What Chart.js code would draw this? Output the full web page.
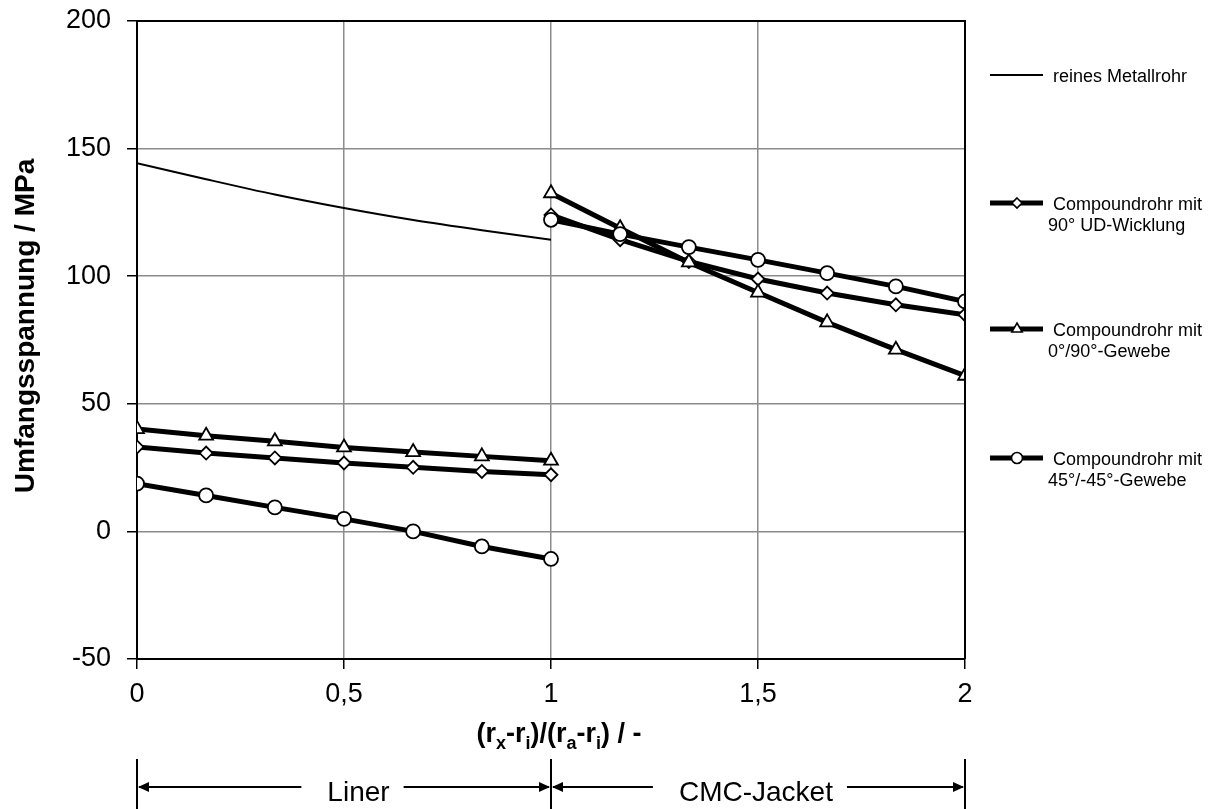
<!DOCTYPE html>
<html>
<head>
<meta charset="utf-8">
<script src="https://cdn.jsdelivr.net/npm/chart.js@4.4.1/dist/chart.umd.min.js"></script>
<style>
  html, body { margin: 0; padding: 0; background: #fff; }
  #wrap { width: 1216px; height: 809px; position: relative; }
</style>
</head>
<body>
<div id="wrap"><canvas id="stressChart"></canvas></div>
<script>
// x positions (r_x - r_i)/(r_a - r_i)
const linerX = [0, 0.167, 0.333, 0.5, 0.667, 0.833, 1];
const jacketX = [1, 1.167, 1.333, 1.5, 1.667, 1.833, 2];

// Umfangsspannung in MPa
const metalLiner = [144.3, 138.0, 132.0, 126.7, 122.0, 118.0, 114.3];
const udLiner = [33.1, 30.7, 28.8, 26.8, 25.1, 23.5, 22.2];
const udJacket = [124.0, 114.3, 105.8, 98.9, 93.4, 88.8, 84.9];
const gewebeLiner = [40.1, 37.5, 35.3, 32.9, 31.1, 29.4, 27.7];
const gewebeJacket = [132.5, 118.8, 105.4, 93.6, 81.9, 71.2, 61.0];
const diagLiner = [18.7, 14.1, 9.4, 4.9, 0, -5.9, -10.8];
const diagJacket = [122.1, 116.5, 111.4, 106.4, 101.2, 96.0, 90.1];

// axis ticks
const xTickValues = [0, 0.5, 1, 1.5, 2];
const xTickLabels = ['0', '0,5', '1', '1,5', '2'];
const yTickValues = [-50, 0, 50, 100, 150, 200];

const legendLabels = [
    ['reines Metallrohr'],
    ['Compoundrohr mit', '90° UD-Wicklung'],
    ['Compoundrohr mit', '0°/90°-Gewebe'],
    ['Compoundrohr mit', '45°/-45°-Gewebe']
];
const legendStyles = ['none', 'rectRot', 'triangle', 'circle'];

const FONT = "'Liberation Sans', Arial, sans-serif";

function toPoints(xs, ys){
    return xs.map((x, i) => ({x: x, y: ys[i]}));
}

function compoundSet(label, xs, ys, style, radius, order){
    return {
        label: label,
        data: toPoints(xs, ys),
        borderColor: '#000',
        borderWidth: 5,
        pointStyle: style,
        pointRadius: radius,
        pointBackgroundColor: '#fff',
        pointBorderColor: '#000',
        pointBorderWidth: 1.8,
        tension: 0,
        order: order
    };
}

//small marker shapes for the legend
function drawMarker(ctx, style, x, y){
    ctx.save();
    ctx.fillStyle = '#fff';
    ctx.strokeStyle = '#000';
    ctx.lineWidth = 1.6;
    ctx.beginPath();
    if (style === 'rectRot'){
        const r = 5;
        ctx.moveTo(x, y - r);
        ctx.lineTo(x + r, y);
        ctx.lineTo(x, y + r);
        ctx.lineTo(x - r, y);
        ctx.closePath();
    } else if (style === 'triangle'){
        const r = 6;
        ctx.moveTo(x, y - r);
        ctx.lineTo(x + r * 0.866, y + r / 2);
        ctx.lineTo(x - r * 0.866, y + r / 2);
        ctx.closePath();
    } else if (style === 'circle'){
        ctx.arc(x, y, 5.5, 0, Math.PI * 2);
    }
    ctx.fill();
    ctx.stroke();
    ctx.restore();
}

function arrowHead(ctx, tipX, y, dir){
    ctx.beginPath();
    ctx.moveTo(tipX, y);
    ctx.lineTo(tipX - dir * 11, y - 5);
    ctx.lineTo(tipX - dir * 11, y + 5);
    ctx.closePath();
    ctx.fill();
}

const extrasPlugin = {
    id: 'extras',
    afterDraw(chart){
        const ctx = chart.ctx;
        const area = chart.chartArea;
        const xs = chart.scales.x;
        ctx.save();

        //frame top and right
        ctx.strokeStyle = '#000';
        ctx.lineWidth = 2;
        ctx.beginPath();
        ctx.moveTo(area.left, area.top);
        ctx.lineTo(area.right, area.top);
        ctx.lineTo(area.right, area.bottom);
        ctx.stroke();

        //y title
        ctx.fillStyle = '#000';
        ctx.font = 'bold 28px ' + FONT;
        ctx.textAlign = 'center';
        ctx.textBaseline = 'alphabetic';
        ctx.save();
        ctx.translate(34, 326);
        ctx.rotate(-Math.PI / 2);
        ctx.fillText('Umfangsspannung / MPa', 0, 0);
        ctx.restore();

        //x title with subscripts
        const parts = [
            ['(r', false], ['x', true], ['-r', false], ['i', true], [')/(r', false],
            ['a', true], ['-r', false], ['i', true], [') / -', false]
        ];
        const mainFont = 'bold 27px ' + FONT;
        const subFont = 'bold 18px ' + FONT;
        let total = 0;
        parts.forEach(p => {
            ctx.font = p[1] ? subFont : mainFont;
            total += ctx.measureText(p[0]).width;
        });
        let tx = 559 - total / 2;
        ctx.textAlign = 'left';
        parts.forEach(p => {
            ctx.font = p[1] ? subFont : mainFont;
            ctx.fillText(p[0], tx, p[1] ? 749 : 742);
            tx += ctx.measureText(p[0]).width;
        });

        //legend
        const legendY = [75, 203, 329, 458];
        legendLabels.forEach((lines, i) => {
            const y = legendY[i];
            ctx.strokeStyle = '#000';
            ctx.lineWidth = i === 0 ? 2 : 5;
            ctx.beginPath();
            ctx.moveTo(990, y);
            ctx.lineTo(1043, y);
            ctx.stroke();
            drawMarker(ctx, legendStyles[i], 1017, y);
            ctx.fillStyle = '#000';
            ctx.font = '18px ' + FONT;
            ctx.textAlign = 'left';
            ctx.fillText(lines[0], 1053, y + 6.5);
            if (lines[1]){
                ctx.fillText(lines[1], 1048, y + 28);
            }
        });

        //Liner / CMC-Jacket ranges under the axis
        const x0 = xs.getPixelForValue(0);
        const x1 = xs.getPixelForValue(1);
        const x2 = xs.getPixelForValue(2);
        const ay = 787;
        ctx.strokeStyle = '#000';
        ctx.fillStyle = '#000';
        ctx.lineWidth = 2;
        [x0, x1, x2].forEach(x => {
            ctx.beginPath();
            ctx.moveTo(x, 759);
            ctx.lineTo(x, 809);
            ctx.stroke();
        });
        ctx.font = '28px ' + FONT;
        ctx.textAlign = 'center';
        const ranges = [
            {text: 'Liner', from: x0, to: x1, mid: xs.getPixelForValue(0.535)},
            {text: 'CMC-Jacket', from: x1, to: x2, mid: xs.getPixelForValue(1.495)}
        ];
        ranges.forEach(r => {
            const w = ctx.measureText(r.text).width;
            ctx.fillText(r.text, r.mid, 801);
            ctx.lineWidth = 2;
            ctx.beginPath();
            ctx.moveTo(r.from + 2, ay);
            ctx.lineTo(r.mid - w / 2 - 26, ay);
            ctx.moveTo(r.mid + w / 2 + 14, ay);
            ctx.lineTo(r.to - 2, ay);
            ctx.stroke();
            arrowHead(ctx, r.from + 1, ay, -1);
            arrowHead(ctx, r.to - 1, ay, 1);
        });

        ctx.restore();
    }
};

const ctx = document.getElementById('stressChart').getContext('2d');

new Chart(ctx, {
    type: 'line',
    data: {
        datasets: [
            {
                label: legendLabels[0][0],
                data: toPoints(linerX, metalLiner),
                borderColor: '#000',
                borderWidth: 2,
                pointRadius: 0,
                tension: 0.3,
                order: 4
            },
            compoundSet('UD liner', linerX, udLiner, 'rectRot', 6.5, 3),
            compoundSet('UD jacket', jacketX, udJacket, 'rectRot', 6.5, 3),
            compoundSet('Gewebe liner', linerX, gewebeLiner, 'triangle', 8, 2),
            compoundSet('Gewebe jacket', jacketX, gewebeJacket, 'triangle', 8, 2),
            compoundSet('45 liner', linerX, diagLiner, 'circle', 7, 1),
            compoundSet('45 jacket', jacketX, diagJacket, 'circle', 7, 1)
        ]
    },
    options: {
        responsive: true,
        maintainAspectRatio: false,
        animation: false,
        devicePixelRatio: 1,
        layout: {
            padding: {left: 0, top: 21, right: 251, bottom: 0}
        },
        plugins: {
            legend: {display: false},
            tooltip: {enabled: false}
        },
        scales: {
            x: {
                type: 'linear',
                min: 0,
                max: 2,
                afterFit(scale){ scale.height = 150; },
                afterBuildTicks(scale){
                    scale.ticks = xTickValues.map(v => ({value: v}));
                },
                ticks: {
                    color: '#000',
                    padding: 9,
                    maxRotation: 0,
                    font: {family: FONT, size: 27},
                    callback: (value) => xTickLabels[xTickValues.indexOf(value)]
                },
                grid: {
                    color: '#8c8c8c',
                    lineWidth: 1.5,
                    tickColor: '#000',
                    tickLength: 10
                },
                border: {color: '#000', width: 2}
            },
            y: {
                min: -50,
                max: 200,
                afterFit(scale){
                    scale.width = 137;
                    //keep the label overhang from pushing the plot down
                    scale.paddingTop = 0;
                    scale.paddingBottom = 0;
                },
                afterBuildTicks(scale){
                    scale.ticks = yTickValues.map(v => ({value: v}));
                },
                ticks: {
                    color: '#000',
                    padding: 16,
                    font: {family: FONT, size: 27}
                },
                grid: {
                    color: '#8c8c8c',
                    lineWidth: 1.5,
                    tickColor: '#000',
                    tickLength: 10
                },
                border: {color: '#000', width: 2}
            }
        }
    },
    plugins: [extrasPlugin]
});
</script>
</body>
</html>
